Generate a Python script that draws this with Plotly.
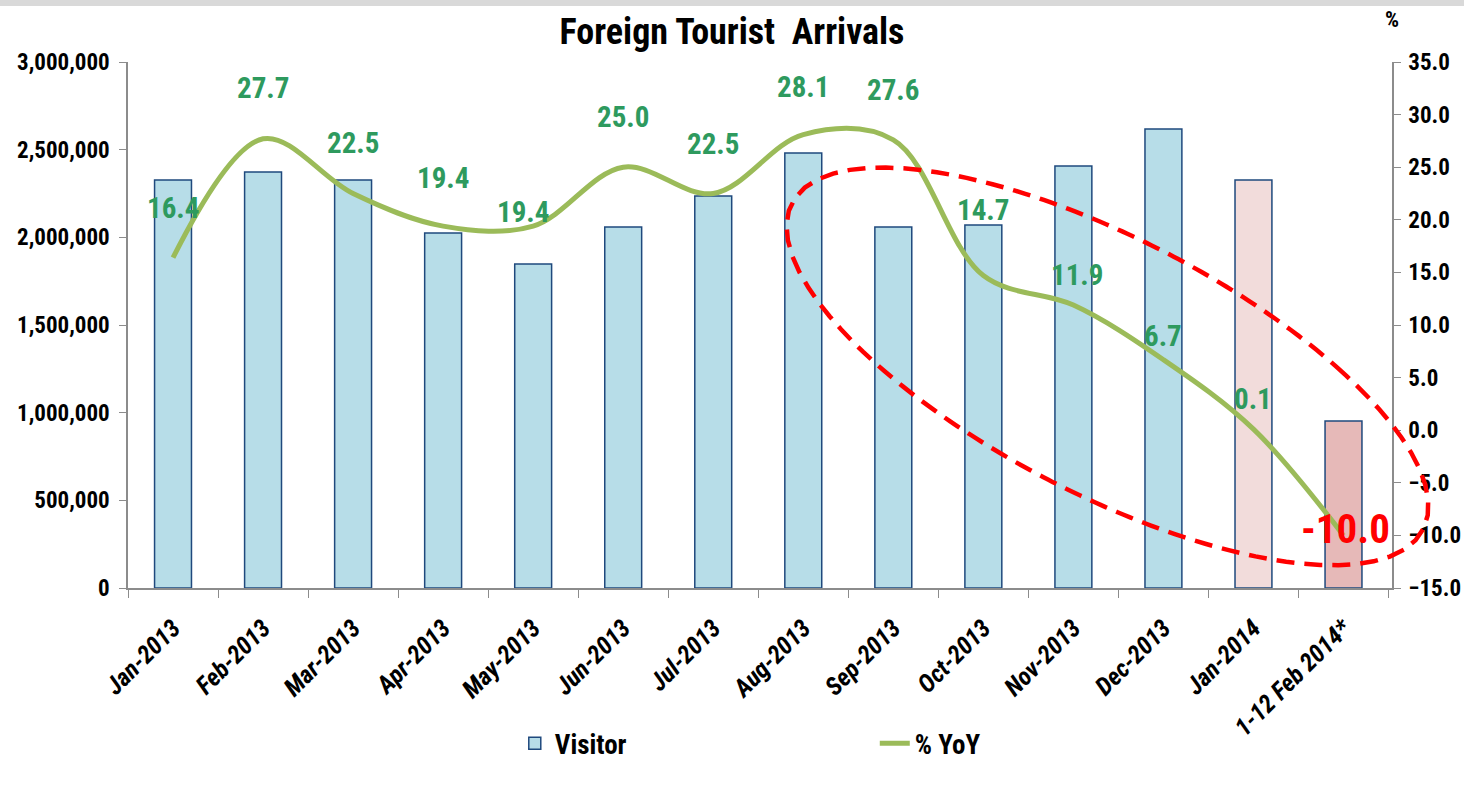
import numpy as np
import plotly.graph_objects as go

categories = ["Jan-2013", "Feb-2013", "Mar-2013", "Apr-2013", "May-2013", "Jun-2013",
              "Jul-2013", "Aug-2013", "Sep-2013", "Oct-2013", "Nov-2013", "Dec-2013",
              "Jan-2014", "1-12 Feb 2014*"]
visitors = [2327000, 2373000, 2327000, 2025000, 1848000, 2059000, 2236000,
            2481000, 2059000, 2070000, 2407000, 2618000, 2327000, 952000]
yoy = [16.4, 27.7, 22.5, 19.4, 19.4, 25.0, 22.5, 28.1, 27.6, 14.7, 11.9, 6.7, 0.1, -10.0]
label_shift = [50, 51, 51, 48, 14, 50, 50, 48, 50, 66, 30, 24, 30, 6]
label_xshift = [0, 0, 0, 0, -10, 0, 0, 0, 0, 0, 4, 0, 0, 2]

FONT = "Liberation Sans Narrow, Roboto Condensed, Arial Narrow, Liberation Sans, sans-serif"

bar_colors = ["#B7DDE8"] * 12 + ["#F2DCDB", "#E6B9B8"]

fig = go.Figure()
fig.add_trace(go.Bar(
    x=categories, y=visitors, name="Visitor",
    marker=dict(color=bar_colors, line=dict(color="#1F497D", width=1.5)),
    width=0.41, yaxis="y",
))
fig.add_trace(go.Scatter(
    x=categories, y=yoy, name="% YoY", mode="lines",
    line=dict(color="#9BBB59", width=5, shape="spline", smoothing=1.0),
    yaxis="y2",
))

annotations = []
for i, (c, v) in enumerate(zip(categories, yoy)):
    last = i == len(categories) - 1
    annotations.append(dict(
        x=c, y=v, xref="x", yref="y2", text=f"{v:.1f}", showarrow=False,
        yshift=label_shift[i], xshift=label_xshift[i],
        font=dict(family=FONT, size=41 if last else 29,
                  color="#FF0000" if last else "#2E9A5E", weight="bold"),
    ))
annotations.append(dict(x=1.0, y=1.0, xref="paper", yref="paper", text="%",
                        showarrow=False, xanchor="center", yanchor="bottom", yshift=28,
                        font=dict(family=FONT, size=22, color="#000", weight="bold")))

# decorative dashed ellipse: fit a conic through outline points (screen pixels), draw in paper coords
W, H, X0, Y0 = 1264.0, 526.0, 128.0, 588.0
outline = np.array([(876, 167), (785, 227), (818, 303), (966, 430), (1073, 493), (1328, 565),
                    (1429, 503), (1391, 423), (1274, 320), (1073, 207), (939, 177)], float)
cxy = np.array([1105.0, 366.0])
q = (outline - cxy) / 100.0
Amat = np.column_stack([q[:, 0] ** 2, q[:, 0] * q[:, 1], q[:, 1] ** 2, q[:, 0], q[:, 1]])
A, B, C, D, E = np.linalg.lstsq(Amat, np.ones(len(q)), rcond=None)[0]
M = np.array([[A, B / 2], [B / 2, C]])
p0 = -0.5 * np.linalg.solve(M, np.array([D, E]))
K = 1 - (p0 @ M @ p0 + D * p0[0] + E * p0[1])
th = np.linspace(0, 2 * np.pi, 160)
dirs = np.column_stack([np.cos(th), np.sin(th)])
r = np.sqrt(K / np.einsum("ij,jk,ik->i", dirs, M, dirs))
pts = (p0 + dirs * r[:, None]) * 100.0 + cxy
path = "M " + " L ".join(f"{(x - X0) / W:.5f},{(Y0 - y) / H:.5f}" for x, y in pts) + " Z"

axis_common = dict(showgrid=False, zeroline=False, showline=True, linecolor="#8C8C8C", linewidth=1.5,
                   ticklen=7, tickcolor="#8C8C8C", automargin=False)

fig.update_layout(
    width=1464, height=788,
    paper_bgcolor="white", plot_bgcolor="rgba(0,0,0,0)",
    margin=dict(l=128, r=72, t=62, b=200),
    title=dict(text="Foreign Tourist  Arrivals", x=0.5, xanchor="center", y=0.96, yanchor="middle",
               font=dict(family=FONT, size=36, color="#000", weight="bold")),
    showlegend=True,
    legend=dict(orientation="h", x=0.306, xanchor="left", y=-0.296, yanchor="middle",
                entrywidth=315, font=dict(family=FONT, size=27, color="#000", weight="bold"),
                bgcolor="rgba(0,0,0,0)"),
    xaxis=dict(tickangle=-45, showgrid=False, showline=True, linecolor="#8C8C8C", linewidth=1.5,
               ticks="outside", tickson="boundaries", ticklen=8, tickcolor="#8C8C8C", automargin=False,
               tickmode="array", tickvals=categories, ticktext=[f"<i>{c}</i>" for c in categories],
               ticklabelstandoff=14,
               tickfont=dict(family=FONT, size=25, color="#000", weight="bold", style="italic")),
    yaxis=dict(range=[0, 3000000], dtick=500000, tickformat=",", ticks="outside",
               ticklabelstandoff=5, **axis_common,
               tickfont=dict(family=FONT, size=23, color="#000", weight="bold")),
    yaxis2=dict(range=[-15, 35], dtick=5, tickformat=".1f", overlaying="y", side="right",
                ticks="outside", ticklabelstandoff=3, **axis_common,
                tickfont=dict(family=FONT, size=23, color="#000", weight="bold")),
    yaxis3=dict(range=[0, 3000000], dtick=500000, overlaying="y", side="left", ticks="inside",
                showticklabels=False, **axis_common),
    yaxis4=dict(range=[-15, 35], dtick=5, overlaying="y", side="right", ticks="inside",
                showticklabels=False, **axis_common),
    annotations=annotations,
    shapes=[
        dict(type="rect", xref="paper", yref="paper", x0=-128 / W, x1=(1464 - 128) / W,
             y0=(588 - 0) / H, y1=(588 - 6) / H, fillcolor="#D9D9D9", line=dict(width=0), layer="below"),
        dict(type="path", xref="paper", yref="paper", path=path,
             line=dict(color="#FF0000", width=4.5, dash="18px,10px")),
    ],
    bargap=0.59,
)

fig.write_html("out.html", config={"displayModeBar": False},
               post_script="document.body.style.margin='0';document.body.style.overflow='hidden';")
